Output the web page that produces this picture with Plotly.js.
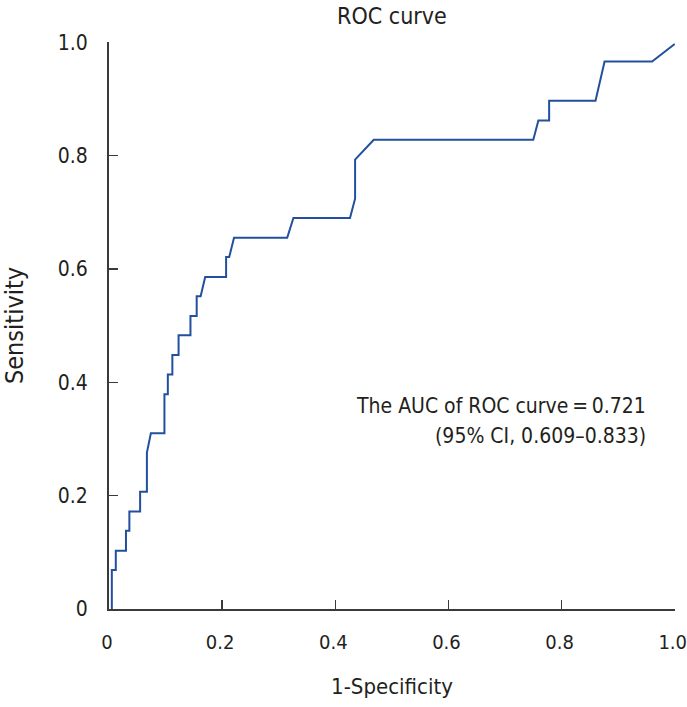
<!DOCTYPE html>
<html>
<head>
<meta charset="utf-8">
<script src="https://cdn.plot.ly/plotly-3.0.1.min.js"></script>
<style>html,body{margin:0;padding:0;background:#fff;}#chart{width:687px;height:707px;}</style>
</head>
<body>
<div id="chart"></div>
<script>
// ROC curve points
var fpr = [0.005, 0.005, 0.012, 0.012, 0.030, 0.030, 0.036, 0.036, 0.055, 0.055, 0.067, 0.067, 0.074, 0.098, 0.098, 0.104, 0.104, 0.112, 0.112, 0.123, 0.123, 0.144, 0.144, 0.155, 0.155, 0.162, 0.170, 0.207, 0.207, 0.2125, 0.221, 0.315, 0.326, 0.426, 0.435, 0.435, 0.468, 0.750, 0.759, 0.778, 0.778, 0.860, 0.876, 0.960, 1.0];
var tpr = [0.000, 0.069, 0.069, 0.103, 0.103, 0.138, 0.138, 0.172, 0.172, 0.207, 0.207, 0.276, 0.310, 0.310, 0.379, 0.379, 0.414, 0.414, 0.448, 0.448, 0.483, 0.483, 0.517, 0.517, 0.552, 0.552, 0.586, 0.586, 0.621, 0.621, 0.655, 0.655, 0.690, 0.690, 0.724, 0.793, 0.828, 0.828, 0.862, 0.862, 0.897, 0.897, 0.966, 0.966, 0.997];
var tickVals = [0, 0.2, 0.4, 0.6, 0.8, 1.0];
var tickText = ['0', '0.2', '0.4', '0.6', '0.8', '1.0'];
var aucLines = ['The AUC of ROC curve\u2009=\u20090.721', '(95% CI, 0.609\u20130.833)'];

var FONT = '"DejaVu Sans Condensed", "Liberation Sans Narrow", "Roboto", sans-serif';
var axisCommon = {
  range: [0, 1.0005],
  showgrid: false,
  zeroline: false,
  showline: true,
  linecolor: '#3a3a3a',
  linewidth: 2,
  ticks: 'inside',
  ticklen: 9,
  tickwidth: 1.5,
  tickcolor: '#3a3a3a',
  tickvals: tickVals,
  ticktext: tickText,
  tickfont: {family: FONT, size: 21, color: '#231f20'},
  ticklabeloverflow: 'allow',
  fixedrange: true
};

var trace = {
  x: fpr, y: tpr, type: 'scatter', mode: 'lines',
  line: {color: '#22509e', width: 2},
  hoverinfo: 'skip', cliponaxis: false
};

var layout = {
  width: 687, height: 707,
  margin: {l: 109, r: 12, t: 42, b: 98},
  paper_bgcolor: '#fff', plot_bgcolor: '#fff',
  showlegend: false,
  font: {family: FONT, color: '#231f20'},
  title: {text: 'ROC curve', font: {family: FONT, size: 23, color: '#231f20'}, x: 0.5705, xanchor: 'center', y: 0.989, yanchor: 'top'},
  xaxis: Object.assign({}, axisCommon, {
    tickfont: {family: FONT, size: 20, color: '#231f20'},
    ticklabelshift: -2,
    title: {text: '1-Specificity', font: {family: FONT, size: 22, color: '#231f20'}, standoff: 26},
    ticklabelstandoff: 14
  }),
  yaxis: Object.assign({}, axisCommon, {
    title: {text: 'Sensitivity', font: {family: FONT, size: 25, color: '#231f20'}, standoff: 30},
    ticklabelstandoff: 15
  }),
  annotations: [
    {text: aucLines[0], x: 0.952, y: 0.358, xref: 'x', yref: 'y', xanchor: 'right', yanchor: 'middle', showarrow: false, font: {family: FONT, size: 21, color: '#231f20'}},
    {text: aucLines[1], x: 0.952, y: 0.305, xref: 'x', yref: 'y', xanchor: 'right', yanchor: 'middle', showarrow: false, font: {family: FONT, size: 21, color: '#231f20'}}
  ]
};

Plotly.newPlot('chart', [trace], layout, {displayModeBar: false, staticPlot: true});
</script>
</body>
</html>
